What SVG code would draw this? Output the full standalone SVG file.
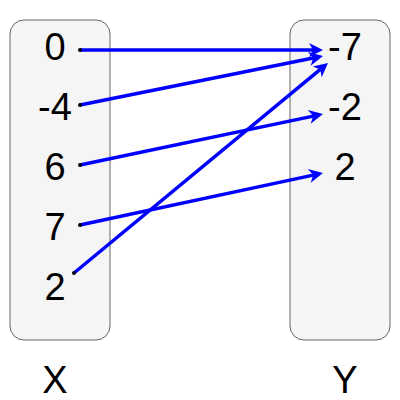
<svg xmlns="http://www.w3.org/2000/svg" width="400" height="400" viewBox="0 0 400 400">
<style>
.box{fill:#f5f5f5;stroke:#666666;stroke-width:1}
.t{font-family:"Liberation Sans",Arial,sans-serif;font-size:38px;fill:#000000;text-anchor:middle}
.e{stroke:#0000ff;stroke-width:3.5;fill:none;marker-end:url(#ah)}
.d{fill:#000000}
</style>
<defs>
<marker id="ah" markerUnits="userSpaceOnUse" markerWidth="20" markerHeight="20" refX="4" refY="0" orient="auto" overflow="visible">
<path d="M14,0 L0,-7 L4,0 L0,7 Z" fill="#0000ff"/>
</marker>
</defs>
<g id="X">
<rect class="box" x="10" y="20" width="100" height="320" rx="14" ry="14"/>
<text class="t" x="55" y="60">0</text>
<text class="t" x="55" y="120">-4</text>
<text class="t" x="55" y="180">6</text>
<text class="t" x="55" y="240">7</text>
<text class="t" x="55" y="300">2</text>
</g>
<g id="Y">
<rect class="box" x="290" y="20" width="100" height="320" rx="14" ry="14"/>
<text class="t" x="345" y="60">-7</text>
<text class="t" x="345" y="120">-2</text>
<text class="t" x="345" y="180">2</text>
</g>
<g id="labelX"><text class="t" x="55" y="393">X</text></g>
<g id="labelY"><text class="t" x="345" y="393">Y</text></g>
<g id="connectors">
<line class="e" x1="80" y1="50" x2="313" y2="50"/>
<line class="e" x1="80" y1="105" x2="313.2" y2="58"/>
<line class="e" x1="80" y1="165" x2="313.2" y2="116.1"/>
<line class="e" x1="80" y1="225" x2="313.2" y2="175.1"/>
<line class="e" x1="74" y1="273" x2="320.3" y2="69.4"/>
<circle class="d" cx="80" cy="50" r="2"/>
<circle class="d" cx="80" cy="105" r="2"/>
<circle class="d" cx="80" cy="165" r="2"/>
<circle class="d" cx="80" cy="225" r="2"/>
<circle class="d" cx="74" cy="273" r="2"/>
</g>
</svg>
